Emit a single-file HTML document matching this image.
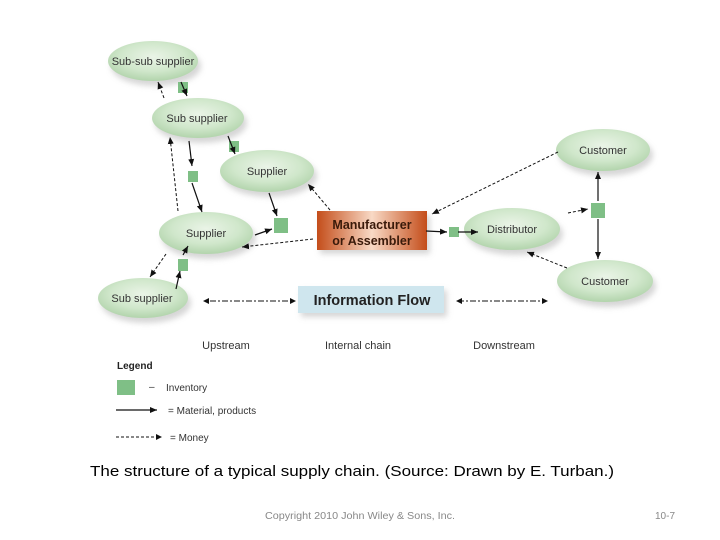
<!DOCTYPE html>
<html><head><meta charset="utf-8"><style>
html,body{margin:0;padding:0;background:#fff;width:720px;height:540px;overflow:hidden}
svg{display:block}
text{font-family:"Liberation Sans",sans-serif}
</style></head><body>
<svg width="720" height="540" viewBox="0 0 720 540" xmlns="http://www.w3.org/2000/svg">
<defs>
<radialGradient id="eg" cx="50%" cy="40%" r="60%">
<stop offset="0" stop-color="#eaf4e7"/><stop offset="0.6" stop-color="#d0e7cb"/><stop offset="1" stop-color="#b2d4ac"/>
</radialGradient>
<linearGradient id="og" x1="0" y1="0" x2="1" y2="0">
<stop offset="0" stop-color="#c44d1a"/><stop offset="0.5" stop-color="#f8d9c5"/><stop offset="1" stop-color="#c44d1a"/>
</linearGradient>
<filter id="sh" x="-30%" y="-30%" width="160%" height="170%"><feGaussianBlur stdDeviation="3"/></filter>
<marker id="a" markerWidth="8" markerHeight="8" refX="7" refY="4" orient="auto" markerUnits="userSpaceOnUse"><path d="M0,1 L7,4 L0,7z" fill="#111"/></marker>
</defs>
<g fill="#bbb" opacity="0.6" filter="url(#sh)">
<ellipse cx="156" cy="66" rx="45" ry="20"/><ellipse cx="201" cy="123" rx="46" ry="20"/>
<ellipse cx="270" cy="176" rx="47" ry="21"/><ellipse cx="209" cy="238" rx="47" ry="21"/>
<ellipse cx="146" cy="303" rx="45" ry="20"/><ellipse cx="515" cy="234" rx="48" ry="21"/>
<ellipse cx="606" cy="155" rx="47" ry="21"/><ellipse cx="608" cy="286" rx="48" ry="21"/>
<rect x="320" y="215" width="110" height="39"/><rect x="301" y="290" width="146" height="27"/>
</g>
<g fill="url(#eg)">
<ellipse cx="153" cy="61" rx="45" ry="20"/><ellipse cx="198" cy="118" rx="46" ry="20"/>
<ellipse cx="267" cy="171" rx="47" ry="21"/><ellipse cx="206" cy="233" rx="47" ry="21"/>
<ellipse cx="143" cy="298" rx="45" ry="20"/><ellipse cx="512" cy="229" rx="48" ry="21"/>
<ellipse cx="603" cy="150" rx="47" ry="21"/><ellipse cx="605" cy="281" rx="48" ry="21"/>
</g>
<rect x="317" y="211" width="110" height="39" fill="url(#og)"/>
<rect x="298" y="286" width="146" height="27" fill="#cfe6ee"/>
<g font-size="11" fill="#333" text-anchor="middle">
<text x="153" y="65">Sub-sub supplier</text><text x="197" y="122">Sub supplier</text>
<text x="267" y="175">Supplier</text><text x="206" y="237">Supplier</text>
<text x="142" y="302">Sub supplier</text><text x="512" y="233">Distributor</text>
<text x="603" y="154">Customer</text><text x="605" y="285">Customer</text>
</g>
<g font-size="12.5" font-weight="bold" fill="#3a1a0a" text-anchor="middle">
<text x="372" y="229">Manufacturer</text><text x="372" y="245">or Assembler</text>
</g>
<text x="372" y="305" font-size="14.5" font-weight="bold" fill="#222" text-anchor="middle">Information Flow</text>
<g fill="#7fbf86">
<rect x="178" y="82" width="10" height="11"/><rect x="229" y="141" width="10" height="11"/>
<rect x="188" y="171" width="10" height="11"/><rect x="274" y="218" width="14" height="15"/>
<rect x="178" y="259" width="10" height="12"/><rect x="449" y="227" width="10" height="10"/>
<rect x="591" y="203" width="14" height="15"/>
</g>
<g stroke="#111" stroke-width="1.2" fill="none" marker-end="url(#a)">
<path d="M181,82 L187,96"/><path d="M228,136 L235,154"/><path d="M189,141 L192,166"/>
<path d="M192,183 L202,212"/><path d="M269,193 L277,216"/><path d="M255,235 L272,229"/>
<path d="M426,231 L447,232"/><path d="M458,232 L478,232"/>
<path d="M598,201 L598,172"/><path d="M598,219 L598,259"/>
<path d="M183,255 L188,246"/><path d="M176,289 L180,271"/>
</g>
<g stroke="#111" stroke-width="1" fill="none" stroke-dasharray="3,2" marker-end="url(#a)">
<path d="M164,98 L158,82"/><path d="M178,211 L170,137"/><path d="M330,210 L308,184"/>
<path d="M313,239 L242,247"/><path d="M558,152 L432,214"/><path d="M567,268 L527,252"/>
<path d="M568,213 L588,209"/><path d="M166,254 L150,277"/>
</g>
<path d="M210,301 L290,301 M458,301 L546,301" stroke="#111" stroke-width="1" stroke-dasharray="6,2,2,2"/>
<path d="M209,298 L203,301 L209,304z M290,298 L296,301 L290,304z M462,298 L456,301 L462,304z M542,298 L548,301 L542,304z" fill="#111"/>
<g font-size="11" fill="#333" text-anchor="middle">
<text x="226" y="349">Upstream</text><text x="358" y="349">Internal chain</text><text x="504" y="349">Downstream</text>
</g>
<text x="117" y="369" font-size="10" font-weight="bold" fill="#222">Legend</text>
<rect x="117" y="380" width="18" height="15" fill="#7fbf86"/>
<text x="149" y="390" font-size="10" fill="#333">–</text>
<text x="166" y="391" font-size="10" fill="#333">Inventory</text>
<path d="M116,410 L157,410" stroke="#111" stroke-width="1.2" marker-end="url(#a)"/>
<text x="168" y="414" font-size="10" fill="#333">= Material, products</text>
<path d="M116,437 L159,437" stroke="#111" stroke-width="1" stroke-dasharray="3,2"/>
<path d="M156,434 L162,437 L156,440z" fill="#111"/>
<text x="170" y="441" font-size="10" fill="#333">= Money</text>
<text x="90" y="476" font-size="15" fill="#000" textLength="524" lengthAdjust="spacingAndGlyphs">The structure of a typical supply chain.  (Source:  Drawn by E. Turban.)</text>
<text x="265" y="519" font-size="10" fill="#888" textLength="190" lengthAdjust="spacingAndGlyphs">Copyright 2010 John Wiley &amp; Sons, Inc.</text>
<text x="655" y="519" font-size="10" fill="#888">10-7</text>
</svg>
</body></html>
